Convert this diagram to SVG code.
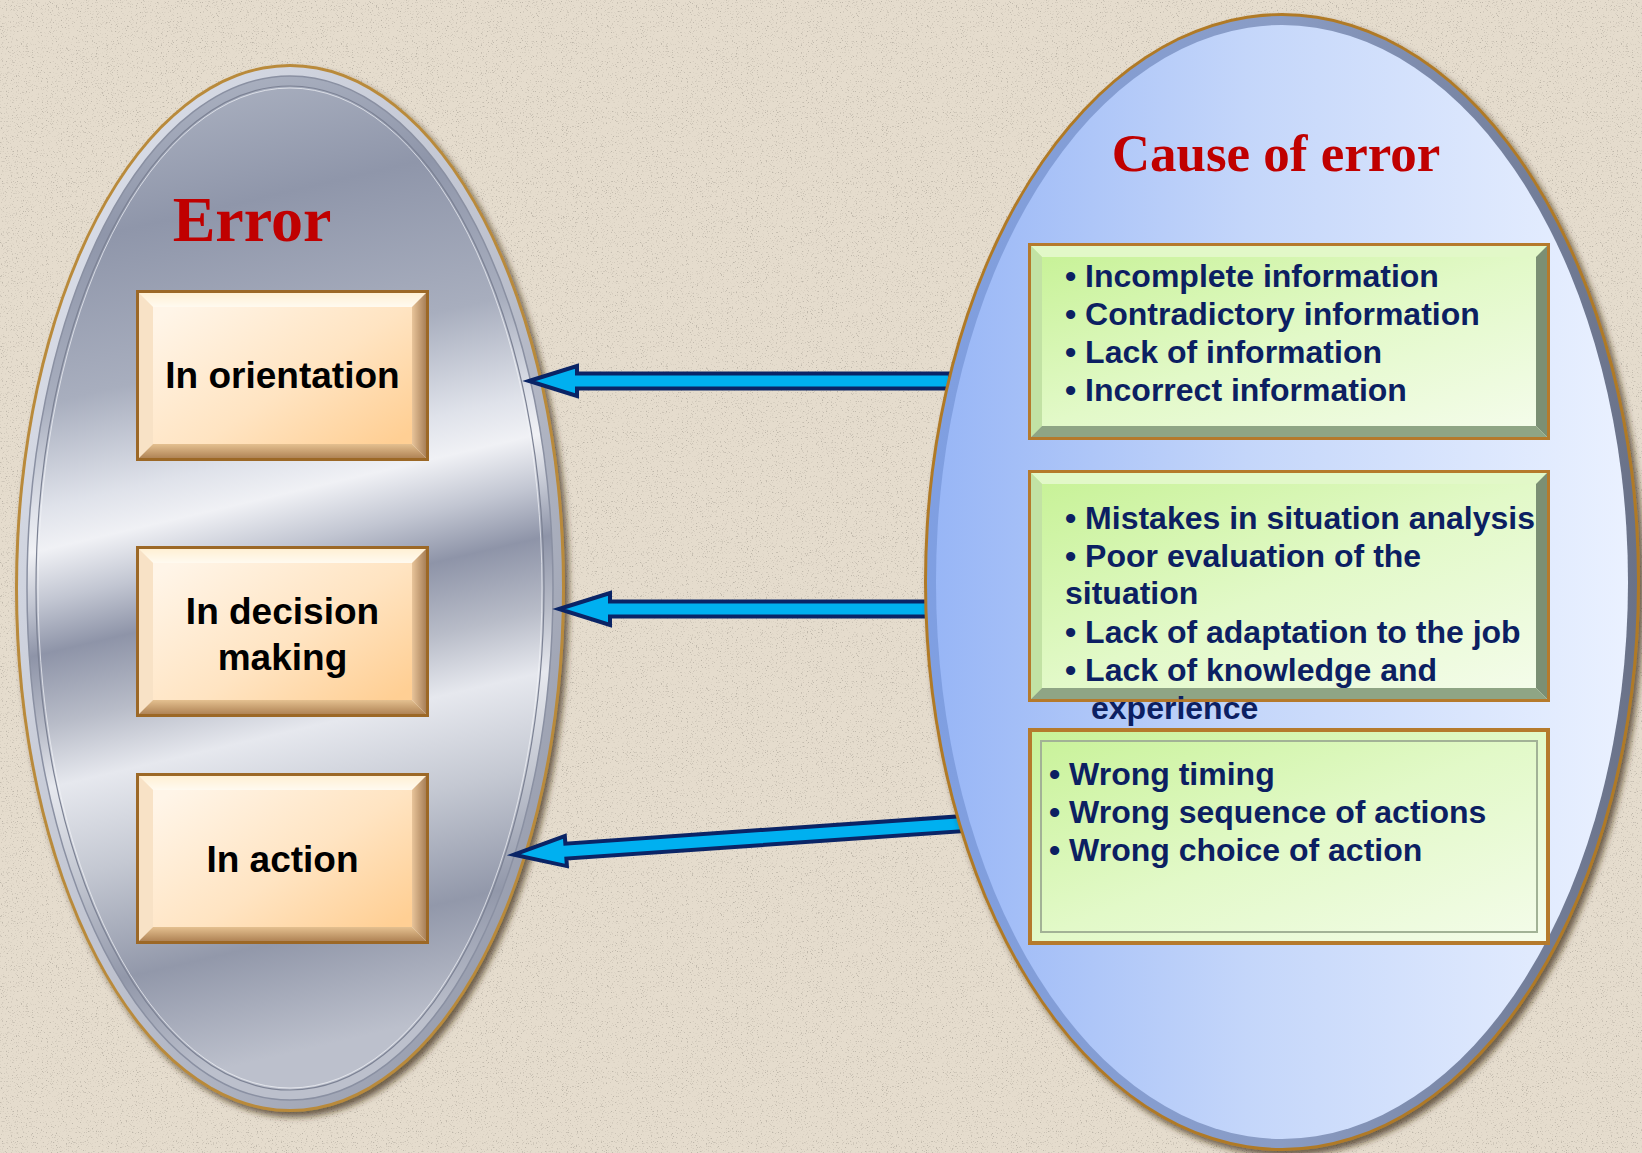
<svg xmlns="http://www.w3.org/2000/svg" width="1642" height="1153" viewBox="0 0 1642 1153">
<defs>
  <style>
    .lbl{font-family:"Liberation Sans",Arial,sans-serif;font-weight:bold;font-size:37px;fill:#000;text-anchor:middle}
    .title{font-family:"Liberation Serif","Times New Roman",serif;font-weight:bold;fill:#c00000;text-anchor:middle}
    .item{font-family:"Liberation Sans",Arial,sans-serif;font-weight:bold;font-size:32px;fill:#0c1f62}
    .arrow{fill:#00b0f0;stroke:#0a2466;stroke-width:4;stroke-linejoin:miter;stroke-miterlimit:10}
    .gborder{fill:#b57a2c}
    .gtop{fill:#e2f8c8}
    .gleft{fill:#c2e2a4}
    .gright{fill:#7b8f74}
    .gbottom{fill:#8fa585}
  </style>
  <filter id="noise" x="0" y="0" width="100%" height="100%">
    <feTurbulence type="fractalNoise" baseFrequency="0.8" numOctaves="2" seed="7"/>
    <feColorMatrix type="matrix" values="0 0 0 0 0.45  0 0 0 0 0.41  0 0 0 0 0.35  5 0 0 0 -3.0"/>
  </filter>
  <filter id="shadow" x="-10%" y="-10%" width="120%" height="120%">
    <feDropShadow dx="4" dy="5" stdDeviation="3" flood-color="#3a2a10" flood-opacity="0.7"/>
  </filter>
  <linearGradient id="silver" x1="0" y1="0" x2="0.12" y2="1">
    <stop offset="0" stop-color="#b4bac8"/>
    <stop offset="0.17" stop-color="#8f96aa"/>
    <stop offset="0.32" stop-color="#a8aebe"/>
    <stop offset="0.42" stop-color="#dfe2ea"/>
    <stop offset="0.46" stop-color="#f0f1f5"/>
    <stop offset="0.51" stop-color="#c2c6d2"/>
    <stop offset="0.56" stop-color="#8e94a8"/>
    <stop offset="0.63" stop-color="#b8bcc8"/>
    <stop offset="0.69" stop-color="#e6e8ee"/>
    <stop offset="0.78" stop-color="#c4c8d2"/>
    <stop offset="0.89" stop-color="#9298aa"/>
    <stop offset="1" stop-color="#bcc0cc"/>
  </linearGradient>
  <linearGradient id="silverRing" x1="0" y1="0" x2="1" y2="1">
    <stop offset="0" stop-color="#e0e4ee"/>
    <stop offset="0.5" stop-color="#c0c4d0"/>
    <stop offset="1" stop-color="#8a90a2"/>
  </linearGradient>
  <linearGradient id="blueFill" x1="0" y1="0" x2="1" y2="0">
    <stop offset="0" stop-color="#98b6f6"/>
    <stop offset="0.45" stop-color="#c4d6fa"/>
    <stop offset="1" stop-color="#eaf1ff"/>
  </linearGradient>
  <linearGradient id="blueRing" x1="0" y1="0" x2="1" y2="0">
    <stop offset="0" stop-color="#7f9fe2"/>
    <stop offset="0.5" stop-color="#8a9cc4"/>
    <stop offset="1" stop-color="#6a7288"/>
  </linearGradient>
  <linearGradient id="peach" x1="0" y1="0.1" x2="1" y2="0.9">
    <stop offset="0" stop-color="#fff5e8"/>
    <stop offset="0.55" stop-color="#ffe4c2"/>
    <stop offset="1" stop-color="#ffcf94"/>
  </linearGradient>
  <linearGradient id="peachTop" x1="0" y1="0" x2="0" y2="1">
    <stop offset="0" stop-color="#fff0d4"/>
    <stop offset="1" stop-color="#fffaf0"/>
  </linearGradient>
  <linearGradient id="peachRight" x1="0" y1="0" x2="1" y2="0">
    <stop offset="0" stop-color="#e8c49a"/>
    <stop offset="1" stop-color="#a88058"/>
  </linearGradient>
  <linearGradient id="peachBottom" x1="0" y1="0" x2="0" y2="1">
    <stop offset="0" stop-color="#e4c090"/>
    <stop offset="1" stop-color="#b08456"/>
  </linearGradient>
  <linearGradient id="green" x1="0" y1="0" x2="1" y2="1">
    <stop offset="0" stop-color="#c8f298"/>
    <stop offset="0.5" stop-color="#e2f9c8"/>
    <stop offset="1" stop-color="#f4fcea"/>
  </linearGradient>
  <g id="obox">
    <rect x="0" y="0" width="293" height="171" fill="#9c6826"/>
    <rect x="3" y="3" width="287" height="165" fill="#fff1dc"/>
    <polygon points="3,3 290,3 276,17 17,17" fill="url(#peachTop)"/>
    <polygon points="3,3 17,17 17,154 3,168" fill="#f8e2c6"/>
    <polygon points="290,3 290,168 276,154 276,17" fill="url(#peachRight)"/>
    <polygon points="3,168 17,154 276,154 290,168" fill="url(#peachBottom)"/>
    <rect x="17" y="17" width="259" height="137" fill="url(#peach)"/>
  </g>
</defs>

<g id="background">
  <rect x="0" y="0" width="1642" height="1153" fill="#e5dccd"/>
  <rect x="0" y="0" width="1642" height="1153" filter="url(#noise)" opacity="0.8"/>
</g>

<g id="error-ellipse">
  <ellipse cx="290" cy="588" rx="275" ry="524" fill="#b98a3a" filter="url(#shadow)"/>
  <ellipse cx="290" cy="588" rx="272" ry="521" fill="url(#silverRing)"/>
  <ellipse cx="290" cy="588" rx="263" ry="512" fill="url(#silver)" stroke="#8a90a2" stroke-width="1.5"/>
  <ellipse cx="290" cy="588" rx="254" ry="502" fill="none" stroke="#7c8294" stroke-width="1.2"/>
  <ellipse cx="290" cy="588" rx="252" ry="500" fill="none" stroke="#f2f4f8" stroke-width="1" opacity="0.7"/>
  <text class="title" x="252" y="241" font-size="64">Error</text>
</g>

<g id="box-orientation">
  <use href="#obox" x="136" y="290"/>
  <text class="lbl" x="282.5" y="388">In orientation</text>
</g>
<g id="box-decision">
  <use href="#obox" x="136" y="546"/>
  <text class="lbl" x="282.5" y="624">In decision</text>
  <text class="lbl" x="282.5" y="670">making</text>
</g>
<g id="box-action">
  <use href="#obox" x="136" y="773"/>
  <text class="lbl" x="282.5" y="872">In action</text>
</g>

<g id="connectors">
  <polygon class="arrow" points="529,381 577,366 577,373.5 950,373.5 950,388.5 577,388.5 577,396"/>
  <polygon class="arrow" points="559,609 610,593 610,601.5 930,601.5 930,616.5 610,616.5 610,625"/>
  <polygon class="arrow" transform="translate(510,855) rotate(-3.97)" points="4,0 56,-15 56,-7.5 460,-7.5 460,7.5 56,7.5 56,15"/>
</g>

<g id="cause-ellipse">
  <ellipse cx="1282" cy="582" rx="358" ry="569" fill="#b07a28" filter="url(#shadow)"/>
  <ellipse cx="1282" cy="582" rx="355" ry="566" fill="url(#blueRing)"/>
  <ellipse cx="1282" cy="582" rx="346" ry="557" fill="url(#blueFill)"/>
  <text class="title" x="1276" y="171" font-size="53">Cause of error</text>
</g>

<g id="cause-information">
  <rect class="gborder" x="1028" y="243" width="522" height="197"/>
  <rect x="1031" y="246" width="516" height="191" fill="url(#green)"/>
  <polygon class="gtop" points="1031,246 1547,246 1536,257 1042,257"/>
  <polygon class="gleft" points="1031,246 1042,257 1042,426 1031,437"/>
  <polygon class="gright" points="1547,246 1547,437 1536,426 1536,257"/>
  <polygon class="gbottom" points="1031,437 1042,426 1536,426 1547,437"/>
  <rect x="1042" y="257" width="494" height="169" fill="url(#green)"/>
  <text class="item" x="1065" y="287">• Incomplete information</text>
  <text class="item" x="1065" y="325">• Contradictory information</text>
  <text class="item" x="1065" y="363">• Lack of information</text>
  <text class="item" x="1065" y="401">• Incorrect information</text>
</g>

<g id="cause-analysis">
  <rect class="gborder" x="1028" y="470" width="522" height="232"/>
  <rect x="1031" y="473" width="516" height="226" fill="url(#green)"/>
  <polygon class="gtop" points="1031,473 1547,473 1536,484 1042,484"/>
  <polygon class="gleft" points="1031,473 1042,484 1042,688 1031,699"/>
  <polygon class="gright" points="1547,473 1547,699 1536,688 1536,484"/>
  <polygon class="gbottom" points="1031,699 1042,688 1536,688 1547,699"/>
  <rect x="1042" y="484" width="494" height="204" fill="url(#green)"/>
  <text class="item" x="1065" y="529">• Mistakes in situation analysis</text>
  <text class="item" x="1065" y="567">• Poor evaluation of the</text>
  <text class="item" x="1065" y="604">situation</text>
  <text class="item" x="1065" y="643">• Lack of adaptation to the job</text>
  <text class="item" x="1065" y="681">• Lack of knowledge and</text>
  <text class="item" x="1091" y="719">experience</text>
</g>

<g id="cause-action">
  <rect class="gborder" x="1028" y="728" width="522" height="217"/>
  <rect x="1032" y="732" width="514" height="209" fill="url(#green)"/>
  <rect x="1041" y="741" width="496" height="191" fill="none" stroke="#a2b296" stroke-width="2"/>
  <text class="item" x="1049" y="785">• Wrong timing</text>
  <text class="item" x="1049" y="823">• Wrong sequence of actions</text>
  <text class="item" x="1049" y="861">• Wrong choice of action</text>
</g>
</svg>
